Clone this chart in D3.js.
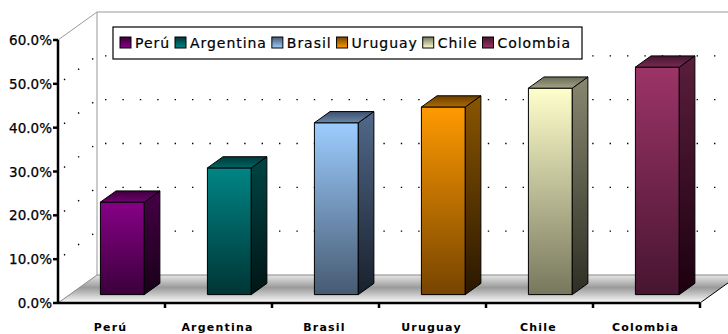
<!DOCTYPE html>
<html>
<head>
<meta charset="utf-8">
<script src="https://cdn.jsdelivr.net/npm/d3@7"></script>
<style>
  html, body { margin: 0; padding: 0; background: #fff; }
  svg { display: block; }
</style>
</head>
<body>
<svg id="chart" width="728" height="334"></svg>
<script>
const categories = ['Perú', 'Argentina', 'Brasil', 'Uruguay', 'Chile', 'Colombia'];
const values = [0.211, 0.289, 0.392, 0.428, 0.471, 0.519];
const yTicks = [0, 0.1, 0.2, 0.3, 0.4, 0.5, 0.6];
// front / side / top colours per series (light -> dark)
const frontColors = [['#870087', '#3b003b'], ['#008585', '#003535'], ['#9ccdff', '#465a72'], ['#ff9a00', '#764400'], ['#ffffcc', '#77775e'], ['#9c3468', '#471530']];
const sideColors = [['#450045', '#180018'], ['#004545', '#001515'], ['#52698a', '#18202c'], ['#8a5600', '#2a1700'], ['#888870', '#2e2e24'], ['#5a1e3c', '#1c0010']];
const topColors = [['#3e003e', '#6e006e'], ['#003a3a', '#006464'], ['#3c506a', '#6a88aa'], ['#6a3e00', '#b06a00'], ['#6a6a56', '#a4a488'], ['#441530', '#7a2a52']];

const svg = d3.select('#chart');
const defs = svg.append('defs');

const x0 = 58, x1 = 700;
const depthX = 39, depthY = -28;
const barFront = 0.3, barBack = 0.7;

const x = d3.scaleBand().domain(categories).range([x0, x1]).padding(0);
const y = d3.scaleLinear().domain([0, 0.6]).range([303, 40]);
const proj = (px, py, f) => [px + f * depthX, py + f * depthY];

function grad(id, stops, vertical = true) {
  const g = defs.append('linearGradient').attr('id', id)
    .attr('x1', 0).attr('y1', 0).attr('x2', vertical ? 0 : 1).attr('y2', vertical ? 1 : 0);
  stops.forEach(([o, c]) => g.append('stop').attr('offset', o).attr('stop-color', c));
  return `url(#${id})`;
}

// floor
const floorFill = grad('floor', [[0, '#e6e6e6'], [0.45, '#9a9a9a'], [0.75, '#cfcfcf'], [1, '#ffffff']]);
const fl = [[x0, y(0)], proj(x0, y(0), 1), proj(x1, y(0), 1), [x1, y(0)]];
svg.append('path').attr('d', d3.line()(fl) + 'Z').attr('fill', floorFill);
svg.append('line').attr('x1', fl[0][0]).attr('y1', fl[0][1]).attr('x2', fl[1][0]).attr('y2', fl[1][1]).attr('stroke', '#888');
svg.append('line').attr('x1', fl[1][0]).attr('y1', fl[1][1]).attr('x2', fl[2][0]).attr('y2', fl[2][1]).attr('stroke', '#888');
svg.append('line').attr('x1', fl[3][0]).attr('y1', fl[3][1]).attr('x2', fl[2][0]).attr('y2', fl[2][1]).attr('stroke', '#000');

// walls: back wall left edge + top edge + side top
const backTL = proj(x0, y(0.6), 1), backBL = proj(x0, y(0), 1), backTR = proj(x1, y(0.6), 1);
svg.append('line').attr('x1', backBL[0]).attr('y1', backBL[1]).attr('x2', backTL[0]).attr('y2', backTL[1]).attr('stroke', '#999');
svg.append('line').attr('x1', backTL[0]).attr('y1', backTL[1]).attr('x2', backTR[0]).attr('y2', backTR[1]).attr('stroke', '#999');
svg.append('line').attr('x1', x0).attr('y1', y(0.6)).attr('x2', backTL[0]).attr('y2', backTL[1]).attr('stroke', '#999');

// dotted gridlines on back and side walls
const grid = svg.append('g').attr('stroke', '#000').attr('stroke-width', 1.4).attr('stroke-dasharray', '1.4 16');
yTicks.filter(t => t > 0 && t < 0.6).forEach(t => {
  const b0 = proj(x0, y(t), 1), b1 = proj(x1, y(t), 1);
  grid.append('line').attr('x1', b0[0] + 8).attr('y1', b0[1]).attr('x2', b1[0]).attr('y2', b1[1]);
  grid.append('line').attr('x1', x0 + 6).attr('y1', y(t) - 4).attr('x2', b0[0]).attr('y2', b0[1]);
});

// bars
const barW = x.bandwidth() * 0.41;
categories.forEach((c, i) => {
  const bx = x(c) + x.bandwidth() / 2 - barW / 2 - barFront * depthX / 2 + 5;
  const fa = proj(bx, y(0), barFront), fTop = proj(bx, y(values[i]), barFront);
  const fr = fa[0] + barW;
  const dx = (barBack - barFront) * depthX, dy = (barBack - barFront) * depthY;
  const g = svg.append('g').attr('stroke', '#000').attr('stroke-width', 1).attr('stroke-linejoin', 'round');
  g.append('rect').attr('x', fa[0]).attr('y', fTop[1]).attr('width', barW).attr('height', fa[1] - fTop[1])
    .attr('fill', grad('f' + i, [[0, frontColors[i][0]], [1, frontColors[i][1]]]));
  g.append('path').attr('d', d3.line()([[fr, fTop[1]], [fr + dx, fTop[1] + dy], [fr + dx, fa[1] + dy], [fr, fa[1]]]) + 'Z')
    .attr('fill', grad('s' + i, [[0, sideColors[i][0]], [1, sideColors[i][1]]]));
  g.append('path').attr('d', d3.line()([[fa[0], fTop[1]], [fa[0] + dx, fTop[1] + dy], [fr + dx, fTop[1] + dy], [fr, fTop[1]]]) + 'Z')
    .attr('fill', grad('t' + i, [[0, topColors[i][0]], [1, topColors[i][1]]]));
});

// front axes
const axis = svg.append('g').attr('stroke', '#000');
axis.append('line').attr('x1', x0).attr('y1', y(0.6)).attr('x2', x0).attr('y2', y(0)).attr('stroke-width', 2.5);
axis.append('line').attr('x1', x0).attr('y1', y(0)).attr('x2', x1).attr('y2', y(0)).attr('stroke-width', 2.5);
yTicks.forEach(t => axis.append('line').attr('x1', x0 - 5).attr('x2', x0).attr('y1', y(t)).attr('y2', y(t)).attr('stroke-width', 2.5));
categories.slice(1).concat(['end']).forEach(c => {
  const tx = c === 'end' ? x1 : x(c);
  axis.append('line').attr('x1', tx).attr('x2', tx).attr('y1', y(0)).attr('y2', y(0) + 5).attr('stroke-width', 2.5);
});

// y labels
svg.append('g').selectAll('text').data(yTicks).join('text')
  .attr('x', 52).attr('y', d => y(d) + 5).attr('text-anchor', 'end')
  .attr('font-family', 'DejaVu Sans, Verdana, sans-serif').attr('font-size', 13.5).attr('fill', '#000')
  .attr('stroke', '#000').attr('stroke-width', 0.25)
  .text(d => d3.format('.1%')(d));

// x labels
svg.append('g').selectAll('text').data(categories).join('text')
  .attr('x', d => x(d) + x.bandwidth() / 2 - 1).attr('y', 331).attr('text-anchor', 'middle')
  .attr('font-family', 'DejaVu Sans, Verdana, sans-serif').attr('font-size', 11).attr('font-weight', 'bold')
  .attr('letter-spacing', 1.2).attr('fill', '#000')
  .text(d => d);

// legend
const legend = svg.append('g');
const box = legend.append('rect').attr('x', 113).attr('y', 27).attr('width', 469).attr('height', 32)
  .attr('fill', '#fff').attr('stroke', '#000').attr('stroke-width', 1.2);
let lx = 120;
categories.forEach((c, i) => {
  legend.append('rect').attr('x', lx).attr('y', 37).attr('width', 11).attr('height', 11)
    .attr('fill', grad('l' + i, [[0, frontColors[i][1]], [1, frontColors[i][0]]])).attr('stroke', '#000');
  const t = legend.append('text').attr('x', lx + 15).attr('y', 48)
    .attr('font-family', 'DejaVu Sans, Verdana, sans-serif').attr('font-size', 14).attr('letter-spacing', 0.95)
    .attr('fill', '#000').attr('stroke', '#000').attr('stroke-width', 0.2).text(c);
  lx += 15 + t.node().getComputedTextLength() + 5;
});
box.attr('width', Math.max(469, lx - 113 + 4));
</script>
</body>
</html>
